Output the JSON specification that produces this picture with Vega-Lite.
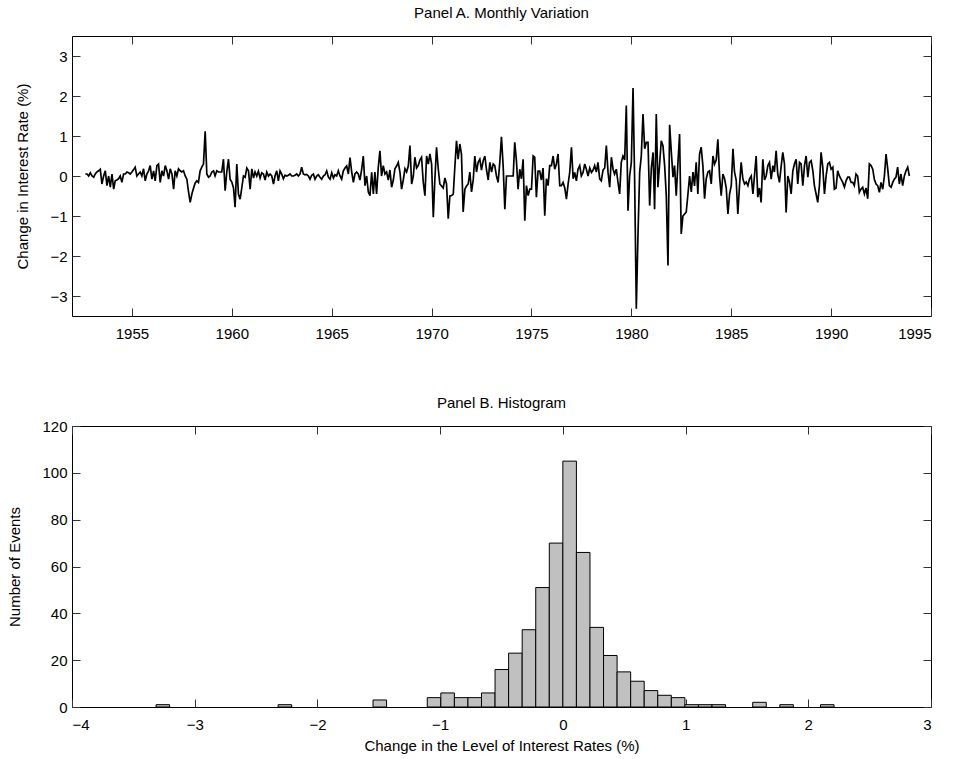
{
"$schema": "https://vega.github.io/schema/vega-lite/v6.json",
"background": "white",
"padding": {"left": 7, "top": 5, "right": 20, "bottom": 4},
"spacing": 53,
"config": {
  "font": "Liberation Sans",
  "view": {"stroke": "black", "strokeWidth": 1},
  "axis": {"grid": false, "domain": false, "tickSize": -8, "tickColor": "#333", "tickWidth": 1, "labelFont": "Liberation Sans", "labelFontSize": 15, "labelColor": "black", "titleFont": "Liberation Sans", "titleFontSize": 15, "titleFontWeight": "normal", "titleColor": "black"},
  "axisX": {"labelPadding": 18, "titlePadding": 6},
  "axisY": {"labelPadding": 13, "titlePadding": 19},
  "title": {"font": "Liberation Sans", "fontSize": 15, "fontWeight": "normal", "color": "black", "anchor": "middle", "offset": 15}
},
"vconcat": [
{
  "title": "Panel A. Monthly Variation",
  "width": 859, "height": 280,
  "data": {"values": [
{"d":"1952-09","v":0.05},{"d":"1952-10","v":0.05},{"d":"1952-11","v":0.0},{"d":"1952-12","v":0.08},
{"d":"1953-01","v":0.0},{"d":"1953-02","v":-0.03},{"d":"1953-03","v":0.05},{"d":"1953-04","v":0.1},{"d":"1953-05","v":0.13},{"d":"1953-06","v":0.17},{"d":"1953-07","v":-0.2},{"d":"1953-08","v":0.0},{"d":"1953-09","v":0.13},{"d":"1953-10","v":-0.24},{"d":"1953-11","v":0.0},{"d":"1953-12","v":-0.28},
{"d":"1954-01","v":0.05},{"d":"1954-02","v":-0.33},{"d":"1954-03","v":-0.12},{"d":"1954-04","v":-0.1},{"d":"1954-05","v":-0.07},{"d":"1954-06","v":0.0},{"d":"1954-07","v":-0.16},{"d":"1954-08","v":0.05},{"d":"1954-09","v":0.05},{"d":"1954-10","v":0.1},{"d":"1954-11","v":0.08},{"d":"1954-12","v":0.05},
{"d":"1955-01","v":0.1},{"d":"1955-02","v":0.16},{"d":"1955-03","v":0.22},{"d":"1955-04","v":0.0},{"d":"1955-05","v":0.05},{"d":"1955-06","v":0.1},{"d":"1955-07","v":0.0},{"d":"1955-08","v":0.18},{"d":"1955-09","v":-0.12},{"d":"1955-10","v":0.05},{"d":"1955-11","v":0.13},{"d":"1955-12","v":0.26},
{"d":"1956-01","v":-0.08},{"d":"1956-02","v":0.13},{"d":"1956-03","v":-0.12},{"d":"1956-04","v":0.26},{"d":"1956-05","v":0.3},{"d":"1956-06","v":-0.16},{"d":"1956-07","v":0.13},{"d":"1956-08","v":0.0},{"d":"1956-09","v":0.26},{"d":"1956-10","v":0.13},{"d":"1956-11","v":-0.08},{"d":"1956-12","v":0.18},
{"d":"1957-01","v":0.05},{"d":"1957-02","v":-0.33},{"d":"1957-03","v":0.13},{"d":"1957-04","v":0.0},{"d":"1957-05","v":0.18},{"d":"1957-06","v":0.13},{"d":"1957-07","v":0.1},{"d":"1957-08","v":0.13},{"d":"1957-09","v":0.0},{"d":"1957-10","v":-0.08},{"d":"1957-11","v":-0.4},{"d":"1957-12","v":-0.66},
{"d":"1958-01","v":-0.45},{"d":"1958-02","v":-0.3},{"d":"1958-03","v":-0.18},{"d":"1958-04","v":-0.12},{"d":"1958-05","v":-0.16},{"d":"1958-06","v":0.13},{"d":"1958-07","v":0.22},{"d":"1958-08","v":0.3},{"d":"1958-09","v":1.12},{"d":"1958-10","v":0.05},{"d":"1958-11","v":-0.03},{"d":"1958-12","v":0.0},
{"d":"1959-01","v":0.1},{"d":"1959-02","v":0.13},{"d":"1959-03","v":0.0},{"d":"1959-04","v":0.13},{"d":"1959-05","v":0.1},{"d":"1959-06","v":0.1},{"d":"1959-07","v":0.1},{"d":"1959-08","v":0.42},{"d":"1959-09","v":-0.37},{"d":"1959-10","v":0.1},{"d":"1959-11","v":0.42},{"d":"1959-12","v":-0.08},
{"d":"1960-01","v":-0.15},{"d":"1960-02","v":-0.3},{"d":"1960-03","v":-0.78},{"d":"1960-04","v":0.3},{"d":"1960-05","v":-0.45},{"d":"1960-06","v":-0.58},{"d":"1960-07","v":-0.3},{"d":"1960-08","v":0.0},{"d":"1960-09","v":-0.03},{"d":"1960-10","v":0.2},{"d":"1960-11","v":0.13},{"d":"1960-12","v":-0.33},
{"d":"1961-01","v":0.18},{"d":"1961-02","v":-0.05},{"d":"1961-03","v":0.1},{"d":"1961-04","v":0.0},{"d":"1961-05","v":0.12},{"d":"1961-06","v":-0.05},{"d":"1961-07","v":0.08},{"d":"1961-08","v":0.05},{"d":"1961-09","v":-0.1},{"d":"1961-10","v":0.1},{"d":"1961-11","v":0.0},{"d":"1961-12","v":0.05},
{"d":"1962-01","v":0.0},{"d":"1962-02","v":-0.2},{"d":"1962-03","v":0.0},{"d":"1962-04","v":0.13},{"d":"1962-05","v":-0.12},{"d":"1962-06","v":0.13},{"d":"1962-07","v":0.05},{"d":"1962-08","v":-0.07},{"d":"1962-09","v":0.02},{"d":"1962-10","v":0.0},{"d":"1962-11","v":0.02},{"d":"1962-12","v":0.05},
{"d":"1963-01","v":0.0},{"d":"1963-02","v":0.0},{"d":"1963-03","v":0.02},{"d":"1963-04","v":0.05},{"d":"1963-05","v":0.0},{"d":"1963-06","v":0.05},{"d":"1963-07","v":0.22},{"d":"1963-08","v":0.05},{"d":"1963-09","v":0.03},{"d":"1963-10","v":0.04},{"d":"1963-11","v":0.0},{"d":"1963-12","v":-0.08},
{"d":"1964-01","v":0.02},{"d":"1964-02","v":0.05},{"d":"1964-03","v":-0.08},{"d":"1964-04","v":0.0},{"d":"1964-05","v":0.03},{"d":"1964-06","v":-0.03},{"d":"1964-07","v":-0.08},{"d":"1964-08","v":0.0},{"d":"1964-09","v":0.03},{"d":"1964-10","v":0.13},{"d":"1964-11","v":-0.03},{"d":"1964-12","v":-0.08},
{"d":"1965-01","v":0.08},{"d":"1965-02","v":-0.05},{"d":"1965-03","v":0.03},{"d":"1965-04","v":0.0},{"d":"1965-05","v":0.13},{"d":"1965-06","v":0.0},{"d":"1965-07","v":-0.08},{"d":"1965-08","v":0.13},{"d":"1965-09","v":0.2},{"d":"1965-10","v":0.25},{"d":"1965-11","v":0.05},{"d":"1965-12","v":0.46},
{"d":"1966-01","v":0.1},{"d":"1966-02","v":-0.16},{"d":"1966-03","v":0.05},{"d":"1966-04","v":0.1},{"d":"1966-05","v":0.05},{"d":"1966-06","v":-0.1},{"d":"1966-07","v":0.15},{"d":"1966-08","v":0.5},{"d":"1966-09","v":-0.24},{"d":"1966-10","v":0.0},{"d":"1966-11","v":-0.4},{"d":"1966-12","v":-0.49},
{"d":"1967-01","v":0.09},{"d":"1967-02","v":-0.45},{"d":"1967-03","v":0.1},{"d":"1967-04","v":-0.45},{"d":"1967-05","v":0.2},{"d":"1967-06","v":0.63},{"d":"1967-07","v":0.0},{"d":"1967-08","v":0.26},{"d":"1967-09","v":0.05},{"d":"1967-10","v":0.1},{"d":"1967-11","v":-0.1},{"d":"1967-12","v":0.15},
{"d":"1968-01","v":-0.28},{"d":"1968-02","v":-0.1},{"d":"1968-03","v":0.18},{"d":"1968-04","v":0.25},{"d":"1968-05","v":0.34},{"d":"1968-06","v":0.1},{"d":"1968-07","v":-0.33},{"d":"1968-08","v":-0.1},{"d":"1968-09","v":0.18},{"d":"1968-10","v":0.1},{"d":"1968-11","v":0.25},{"d":"1968-12","v":0.76},
{"d":"1969-01","v":-0.2},{"d":"1969-02","v":0.0},{"d":"1969-03","v":0.47},{"d":"1969-04","v":0.2},{"d":"1969-05","v":0.26},{"d":"1969-06","v":0.4},{"d":"1969-07","v":0.47},{"d":"1969-08","v":-0.15},{"d":"1969-09","v":-0.49},{"d":"1969-10","v":0.5},{"d":"1969-11","v":0.3},{"d":"1969-12","v":0.55},
{"d":"1970-01","v":0.3},{"d":"1970-02","v":-1.03},{"d":"1970-03","v":-0.1},{"d":"1970-04","v":0.72},{"d":"1970-05","v":0.2},{"d":"1970-06","v":-0.2},{"d":"1970-07","v":-0.25},{"d":"1970-08","v":-0.3},{"d":"1970-09","v":-0.05},{"d":"1970-10","v":-0.2},{"d":"1970-11","v":-1.07},{"d":"1970-12","v":-0.5},
{"d":"1971-01","v":-0.49},{"d":"1971-02","v":-0.45},{"d":"1971-03","v":0.2},{"d":"1971-04","v":0.88},{"d":"1971-05","v":0.42},{"d":"1971-06","v":0.8},{"d":"1971-07","v":0.55},{"d":"1971-08","v":-0.9},{"d":"1971-09","v":-0.33},{"d":"1971-10","v":-0.25},{"d":"1971-11","v":-0.2},{"d":"1971-12","v":0.1},
{"d":"1972-01","v":-0.4},{"d":"1972-02","v":-0.1},{"d":"1972-03","v":0.5},{"d":"1972-04","v":0.1},{"d":"1972-05","v":0.34},{"d":"1972-06","v":0.42},{"d":"1972-07","v":0.15},{"d":"1972-08","v":0.38},{"d":"1972-09","v":0.5},{"d":"1972-10","v":0.15},{"d":"1972-11","v":-0.1},{"d":"1972-12","v":0.34},
{"d":"1973-01","v":0.1},{"d":"1973-02","v":0.3},{"d":"1973-03","v":0.26},{"d":"1973-04","v":0.0},{"d":"1973-05","v":-0.16},{"d":"1973-06","v":0.34},{"d":"1973-07","v":0.98},{"d":"1973-08","v":0.26},{"d":"1973-09","v":-0.83},{"d":"1973-10","v":0.0},{"d":"1973-11","v":0.0},{"d":"1973-12","v":0.0},
{"d":"1974-01","v":0.0},{"d":"1974-02","v":0.0},{"d":"1974-03","v":0.84},{"d":"1974-04","v":0.38},{"d":"1974-05","v":-0.33},{"d":"1974-06","v":0.17},{"d":"1974-07","v":-0.07},{"d":"1974-08","v":0.42},{"d":"1974-09","v":-1.12},{"d":"1974-10","v":-0.24},{"d":"1974-11","v":-0.49},{"d":"1974-12","v":-0.33},
{"d":"1975-01","v":-0.33},{"d":"1975-02","v":0.5},{"d":"1975-03","v":0.47},{"d":"1975-04","v":-0.53},{"d":"1975-05","v":0.12},{"d":"1975-06","v":0.12},{"d":"1975-07","v":-0.1},{"d":"1975-08","v":0.2},{"d":"1975-09","v":-0.99},{"d":"1975-10","v":-0.07},{"d":"1975-11","v":-0.24},{"d":"1975-12","v":0.26},
{"d":"1976-01","v":0.26},{"d":"1976-02","v":0.5},{"d":"1976-03","v":0.17},{"d":"1976-04","v":0.3},{"d":"1976-05","v":0.55},{"d":"1976-06","v":-0.24},{"d":"1976-07","v":-0.24},{"d":"1976-08","v":-0.16},{"d":"1976-09","v":-0.3},{"d":"1976-10","v":-0.58},{"d":"1976-11","v":-0.2},{"d":"1976-12","v":0.1},
{"d":"1977-01","v":0.72},{"d":"1977-02","v":-0.07},{"d":"1977-03","v":0.09},{"d":"1977-04","v":-0.12},{"d":"1977-05","v":0.17},{"d":"1977-06","v":0.26},{"d":"1977-07","v":0.0},{"d":"1977-08","v":0.09},{"d":"1977-09","v":0.3},{"d":"1977-10","v":0.17},{"d":"1977-11","v":0.0},{"d":"1977-12","v":0.2},
{"d":"1978-01","v":0.09},{"d":"1978-02","v":0.15},{"d":"1978-03","v":0.26},{"d":"1978-04","v":0.1},{"d":"1978-05","v":0.34},{"d":"1978-06","v":-0.07},{"d":"1978-07","v":-0.12},{"d":"1978-08","v":0.15},{"d":"1978-09","v":0.2},{"d":"1978-10","v":0.76},{"d":"1978-11","v":0.09},{"d":"1978-12","v":-0.28},
{"d":"1979-01","v":0.47},{"d":"1979-02","v":0.17},{"d":"1979-03","v":0.05},{"d":"1979-04","v":0.17},{"d":"1979-05","v":-0.15},{"d":"1979-06","v":-0.45},{"d":"1979-07","v":0.34},{"d":"1979-08","v":0.5},{"d":"1979-09","v":0.4},{"d":"1979-10","v":1.76},{"d":"1979-11","v":-0.87},{"d":"1979-12","v":0.0},
{"d":"1980-01","v":0.34},{"d":"1980-02","v":2.2},{"d":"1980-03","v":-0.07},{"d":"1980-04","v":-3.32},{"d":"1980-05","v":-1.5},{"d":"1980-06","v":0.09},{"d":"1980-07","v":0.5},{"d":"1980-08","v":1.55},{"d":"1980-09","v":0.68},{"d":"1980-10","v":0.84},{"d":"1980-11","v":0.84},{"d":"1980-12","v":-0.74},
{"d":"1981-01","v":0.2},{"d":"1981-02","v":0.59},{"d":"1981-03","v":-0.83},{"d":"1981-04","v":1.55},{"d":"1981-05","v":-0.28},{"d":"1981-06","v":0.3},{"d":"1981-07","v":0.88},{"d":"1981-08","v":0.76},{"d":"1981-09","v":0.26},{"d":"1981-10","v":-0.49},{"d":"1981-11","v":-2.24},{"d":"1981-12","v":1.28},
{"d":"1982-01","v":0.6},{"d":"1982-02","v":-0.03},{"d":"1982-03","v":0.26},{"d":"1982-04","v":-0.49},{"d":"1982-05","v":0.3},{"d":"1982-06","v":1.05},{"d":"1982-07","v":-1.45},{"d":"1982-08","v":-1.0},{"d":"1982-09","v":-0.95},{"d":"1982-10","v":-0.9},{"d":"1982-11","v":-0.45},{"d":"1982-12","v":0.0},
{"d":"1983-01","v":-0.4},{"d":"1983-02","v":0.1},{"d":"1983-03","v":-0.25},{"d":"1983-04","v":0.34},{"d":"1983-05","v":-0.45},{"d":"1983-06","v":0.55},{"d":"1983-07","v":0.72},{"d":"1983-08","v":0.26},{"d":"1983-09","v":-0.57},{"d":"1983-10","v":-0.07},{"d":"1983-11","v":0.1},{"d":"1983-12","v":0.13},
{"d":"1984-01","v":-0.2},{"d":"1984-02","v":0.5},{"d":"1984-03","v":0.3},{"d":"1984-04","v":0.4},{"d":"1984-05","v":0.92},{"d":"1984-06","v":0.0},{"d":"1984-07","v":-0.49},{"d":"1984-08","v":0.05},{"d":"1984-09","v":-0.07},{"d":"1984-10","v":-0.3},{"d":"1984-11","v":-0.95},{"d":"1984-12","v":-0.45},
{"d":"1985-01","v":-0.24},{"d":"1985-02","v":0.68},{"d":"1985-03","v":0.1},{"d":"1985-04","v":-0.1},{"d":"1985-05","v":-0.95},{"d":"1985-06","v":-0.24},{"d":"1985-07","v":0.34},{"d":"1985-08","v":-0.07},{"d":"1985-09","v":-0.2},{"d":"1985-10","v":-0.15},{"d":"1985-11","v":-0.24},{"d":"1985-12","v":-0.07},
{"d":"1986-01","v":0.0},{"d":"1986-02","v":-0.45},{"d":"1986-03","v":0.0},{"d":"1986-04","v":0.5},{"d":"1986-05","v":-0.53},{"d":"1986-06","v":-0.3},{"d":"1986-07","v":-0.66},{"d":"1986-08","v":0.42},{"d":"1986-09","v":-0.1},{"d":"1986-10","v":0.0},{"d":"1986-11","v":0.26},{"d":"1986-12","v":0.34},
{"d":"1987-01","v":-0.08},{"d":"1987-02","v":0.26},{"d":"1987-03","v":0.1},{"d":"1987-04","v":0.63},{"d":"1987-05","v":0.05},{"d":"1987-06","v":-0.16},{"d":"1987-07","v":0.22},{"d":"1987-08","v":0.59},{"d":"1987-09","v":0.3},{"d":"1987-10","v":-0.91},{"d":"1987-11","v":0.0},{"d":"1987-12","v":-0.15},
{"d":"1988-01","v":-0.45},{"d":"1988-02","v":0.13},{"d":"1988-03","v":0.3},{"d":"1988-04","v":0.42},{"d":"1988-05","v":-0.2},{"d":"1988-06","v":0.34},{"d":"1988-07","v":0.3},{"d":"1988-08","v":-0.24},{"d":"1988-09","v":0.26},{"d":"1988-10","v":0.5},{"d":"1988-11","v":-0.03},{"d":"1988-12","v":0.34},
{"d":"1989-01","v":0.38},{"d":"1989-02","v":0.13},{"d":"1989-03","v":-0.24},{"d":"1989-04","v":-0.45},{"d":"1989-05","v":-0.66},{"d":"1989-06","v":-0.24},{"d":"1989-07","v":0.59},{"d":"1989-08","v":0.22},{"d":"1989-09","v":-0.45},{"d":"1989-10","v":0.0},{"d":"1989-11","v":0.3},{"d":"1989-12","v":0.34},
{"d":"1990-01","v":0.17},{"d":"1990-02","v":0.22},{"d":"1990-03","v":-0.33},{"d":"1990-04","v":-0.3},{"d":"1990-05","v":0.13},{"d":"1990-06","v":0.0},{"d":"1990-07","v":-0.08},{"d":"1990-08","v":-0.16},{"d":"1990-09","v":-0.28},{"d":"1990-10","v":-0.12},{"d":"1990-11","v":-0.03},{"d":"1990-12","v":-0.03},
{"d":"1991-01","v":-0.16},{"d":"1991-02","v":-0.16},{"d":"1991-03","v":-0.24},{"d":"1991-04","v":0.05},{"d":"1991-05","v":0.0},{"d":"1991-06","v":-0.41},{"d":"1991-07","v":-0.33},{"d":"1991-08","v":-0.28},{"d":"1991-09","v":-0.45},{"d":"1991-10","v":-0.3},{"d":"1991-11","v":-0.57},{"d":"1991-12","v":0.3},
{"d":"1992-01","v":0.26},{"d":"1992-02","v":0.17},{"d":"1992-03","v":-0.08},{"d":"1992-04","v":-0.2},{"d":"1992-05","v":-0.24},{"d":"1992-06","v":-0.41},{"d":"1992-07","v":-0.16},{"d":"1992-08","v":-0.33},{"d":"1992-09","v":0.0},{"d":"1992-10","v":0.55},{"d":"1992-11","v":0.17},{"d":"1992-12","v":-0.24},
{"d":"1993-01","v":-0.28},{"d":"1993-02","v":-0.16},{"d":"1993-03","v":-0.08},{"d":"1993-04","v":-0.03},{"d":"1993-05","v":0.22},{"d":"1993-06","v":-0.2},{"d":"1993-07","v":0.05},{"d":"1993-08","v":-0.24},{"d":"1993-09","v":0.0},{"d":"1993-10","v":0.13},{"d":"1993-11","v":0.22},{"d":"1993-12","v":0.0}
  ]},
  "layer": [
    {"mark": {"type": "line", "color": "black", "strokeWidth": 1.7},
     "encoding": {
       "x": {"field": "d", "type": "temporal", "scale": {"domain": [{"year": 1952, "month": 1, "date": 1}, {"year": 1995, "month": 1, "date": 1}]},
             "axis": {"title": null, "format": "%Y", "values": [{"year": 1955}, {"year": 1960}, {"year": 1965}, {"year": 1970}, {"year": 1975}, {"year": 1980}, {"year": 1985}, {"year": 1990}, {"year": 1995}]}},
       "y": {"field": "v", "type": "quantitative", "scale": {"domain": [-3.5, 3.5]},
             "axis": {"title": "Change in Interest Rate (%)", "values": [-3, -2, -1, 0, 1, 2, 3]}}
     }},
    {"mark": {"type": "line", "opacity": 0},
     "encoding": {
       "x": {"field": "d", "type": "temporal", "scale": {"domain": [{"year": 1952, "month": 1, "date": 1}, {"year": 1995, "month": 1, "date": 1}]},
             "axis": {"orient": "top", "labels": false, "title": null, "values": [{"year": 1955}, {"year": 1960}, {"year": 1965}, {"year": 1970}, {"year": 1975}, {"year": 1980}, {"year": 1985}, {"year": 1990}, {"year": 1995}]}},
       "y": {"field": "v", "type": "quantitative", "scale": {"domain": [-3.5, 3.5]},
             "axis": {"orient": "right", "labels": false, "title": null, "values": [-3, -2, -1, 0, 1, 2, 3]}}
     }}
  ],
  "resolve": {"axis": {"x": "independent", "y": "independent"}}
},
{
  "title": {"text": "Panel B. Histogram", "offset": 8},
  "width": 859, "height": 281,
  "data": {"values": [
{"lo":-3.315,"hi":-3.2045,"n":1},
{"lo":-2.3205,"hi":-2.21,"n":1},
{"lo":-1.547,"hi":-1.4365,"n":3},
{"lo":-1.105,"hi":-0.9945,"n":4},
{"lo":-0.9945,"hi":-0.884,"n":6},
{"lo":-0.884,"hi":-0.7735,"n":4},
{"lo":-0.7735,"hi":-0.663,"n":4},
{"lo":-0.663,"hi":-0.5525,"n":6},
{"lo":-0.5525,"hi":-0.442,"n":16},
{"lo":-0.442,"hi":-0.3315,"n":23},
{"lo":-0.3315,"hi":-0.221,"n":33},
{"lo":-0.221,"hi":-0.1105,"n":51},
{"lo":-0.1105,"hi":0.0,"n":70},
{"lo":0.0,"hi":0.1105,"n":105},
{"lo":0.1105,"hi":0.221,"n":66},
{"lo":0.221,"hi":0.3315,"n":34},
{"lo":0.3315,"hi":0.442,"n":22},
{"lo":0.442,"hi":0.5525,"n":15},
{"lo":0.5525,"hi":0.663,"n":11},
{"lo":0.663,"hi":0.7735,"n":7},
{"lo":0.7735,"hi":0.884,"n":5},
{"lo":0.884,"hi":0.9945,"n":4},
{"lo":0.9945,"hi":1.105,"n":1},
{"lo":1.105,"hi":1.2155,"n":1},
{"lo":1.2155,"hi":1.326,"n":1},
{"lo":1.547,"hi":1.6575,"n":2},
{"lo":1.768,"hi":1.8785,"n":1},
{"lo":2.0995,"hi":2.21,"n":1}
  ]},
  "layer": [
    {"mark": {"type": "rect", "fill": "#c0c0c0", "stroke": "black", "strokeWidth": 1},
     "encoding": {
       "x": {"field": "lo", "type": "quantitative", "scale": {"domain": [-4, 3]},
             "axis": {"title": "Change in the Level of Interest Rates (%)", "values": [-4, -3, -2, -1, 0, 1, 2, 3]}},
       "x2": {"field": "hi"},
       "y": {"field": "n", "type": "quantitative", "scale": {"domain": [0, 120]},
             "axis": {"title": "Number of Events", "values": [0, 20, 40, 60, 80, 100, 120]}},
       "y2": {"datum": 0}
     }},
    {"mark": {"type": "rect", "opacity": 0},
     "encoding": {
       "x": {"field": "lo", "type": "quantitative", "scale": {"domain": [-4, 3]},
             "axis": {"orient": "top", "labels": false, "title": null, "values": [-4, -3, -2, -1, 0, 1, 2, 3]}},
       "x2": {"field": "hi"},
       "y": {"field": "n", "type": "quantitative", "scale": {"domain": [0, 120]},
             "axis": {"orient": "right", "labels": false, "title": null, "values": [0, 20, 40, 60, 80, 100, 120]}},
       "y2": {"datum": 0}
     }}
  ],
  "resolve": {"axis": {"x": "independent", "y": "independent"}}
}
]
}
